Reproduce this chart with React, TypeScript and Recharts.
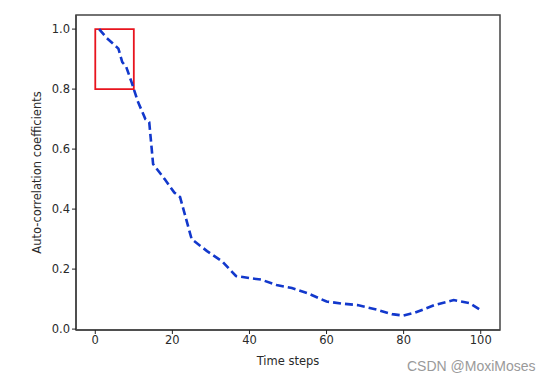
import React from 'react';
import { LineChart, Line, XAxis, YAxis, ReferenceArea } from 'recharts';

const steps = [1, 3, 6, 7, 8, 9.5, 11, 13, 14, 15, 18, 20.5, 22, 25, 29, 33, 36.5, 40, 43, 47, 51, 55, 60, 64, 68, 73, 77, 80, 83, 88, 93, 97, 100];
const coeffs = [1.0, 0.97, 0.935, 0.89, 0.875, 0.82, 0.76, 0.70, 0.69, 0.55, 0.50, 0.455, 0.44, 0.30, 0.26, 0.225, 0.177, 0.17, 0.165, 0.147, 0.137, 0.12, 0.092, 0.085, 0.08, 0.065, 0.05, 0.045, 0.055, 0.08, 0.097, 0.087, 0.063];
const xTicks = [0, 20, 40, 60, 80, 100];
const yTicks = [0, 0.2, 0.4, 0.6, 0.8, 1.0];

const data = steps.map((s, i) => ({ t: s, v: coeffs[i] }));

const font = 'DejaVu Sans, sans-serif';
const axisColor = '#444';
const tickStyle = { fontSize: 11.5, fill: '#2a2a2a', fontFamily: font };

export default function App() {
  return (
    <div style={{ position: 'absolute', left: 0, top: 0, width: 551, height: 382, background: '#fff' }}>
      <LineChart width={551} height={382} data={data} margin={{ top: 15, right: 51, left: 0, bottom: 0 }}>
        <XAxis
          dataKey="t"
          type="number"
          domain={[-5, 105]}
          ticks={xTicks}
          height={52}
          stroke={axisColor}
          strokeWidth={1.5}
          tickSize={4}
          tick={tickStyle}
          tickLine={{ stroke: '#222', strokeWidth: 1 }}
          allowDataOverflow
          label={{ value: 'Time steps', position: 'insideBottom', offset: 17, style: { fontSize: 11.5, fill: '#2a2a2a', fontFamily: font } }}
        />
        <YAxis
          type="number"
          domain={[-0.003, 1.047]}
          ticks={yTicks}
          width={76}
          stroke={axisColor}
          strokeWidth={1.5}
          tickSize={4}
          tick={tickStyle}
          tickLine={{ stroke: '#222', strokeWidth: 1 }}
          tickFormatter={(v: number) => v.toFixed(1)}
          allowDataOverflow
          label={{ value: 'Auto-correlation coefficients', angle: -90, position: 'insideLeft', offset: 37, style: { fontSize: 11.5, fill: '#2a2a2a', fontFamily: font, textAnchor: 'middle' } }}
        />
        <ReferenceArea x1={-5} x2={105} y1={-0.003} y2={1.047} fill="none" fillOpacity={0} stroke={axisColor} strokeWidth={1.5} ifOverflow="visible" />
        <ReferenceArea x1={0} x2={10} y1={0.8} y2={1.0} fill="none" fillOpacity={0} stroke="#e8141e" strokeWidth={1.8} ifOverflow="visible" />
        <Line
          type="linear"
          dataKey="v"
          stroke="#1238cc"
          strokeWidth={2.6}
          strokeDasharray="8 4"
          dot={false}
          isAnimationActive={false}
        />
      </LineChart>
      <div style={{ position: 'absolute', left: 407, top: 358, fontFamily: 'Liberation Sans, Arial, sans-serif', fontSize: 14, color: '#9a9a9a', whiteSpace: 'nowrap' }}>
        CSDN @MoxiMoses
      </div>
    </div>
  );
}
